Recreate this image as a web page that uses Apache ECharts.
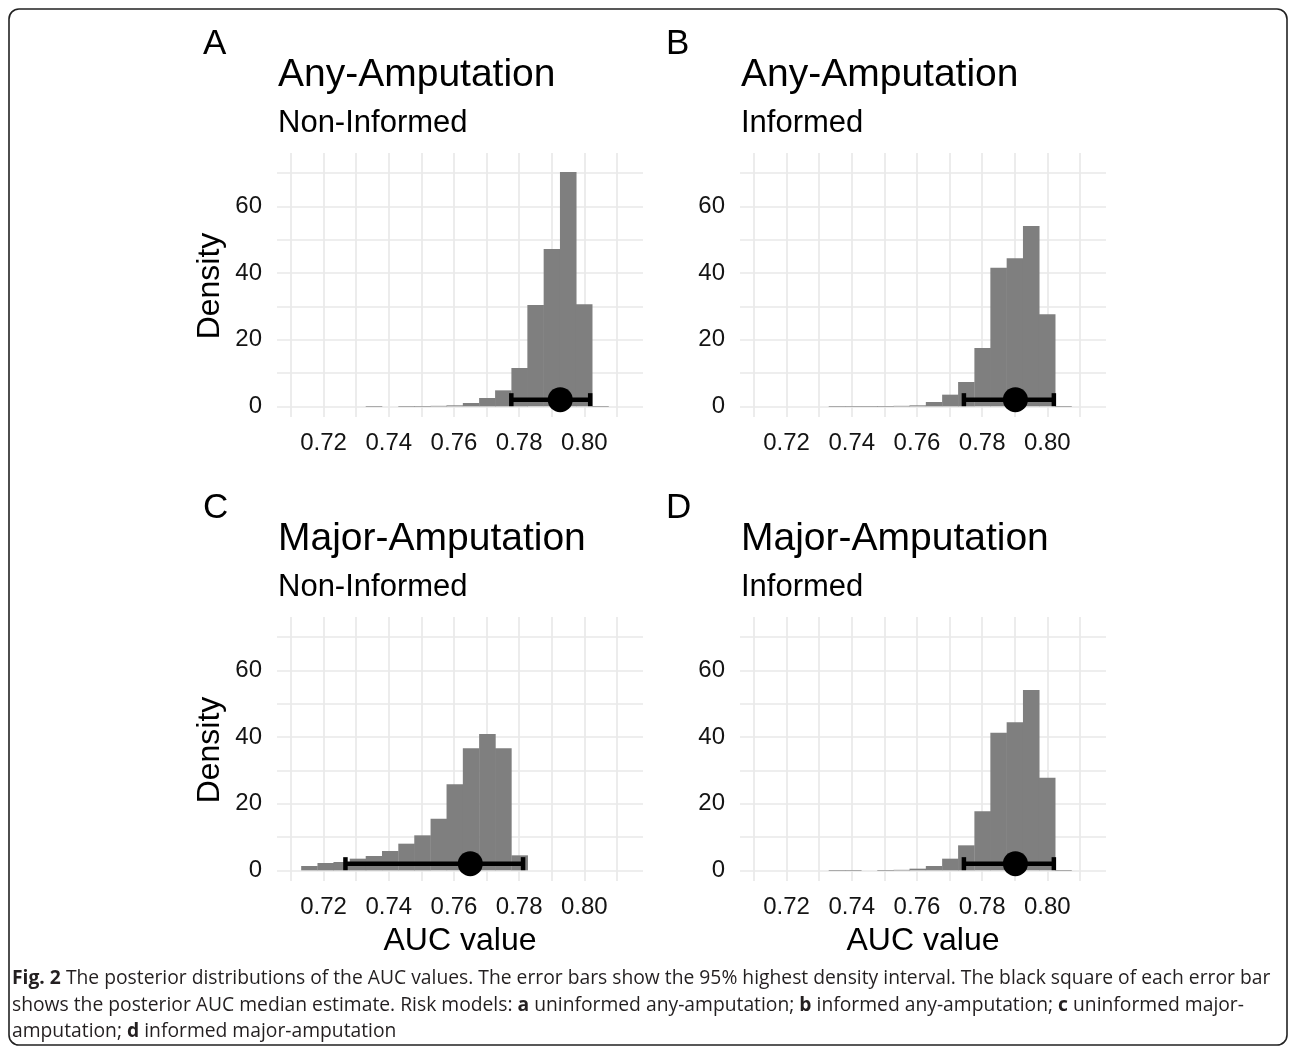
<!DOCTYPE html>
<html>
<head>
<meta charset="utf-8">
<script src="https://cdn.jsdelivr.net/npm/echarts@6/dist/echarts.min.js"></script>
<style>
  html, body { margin: 0; padding: 0; background: #fff; }
  #chart { width: 1296px; height: 1052px; }
</style>
</head>
<body>
<div id="chart"></div>
<script>
// histogram bins (centres on the AUC axis), shared by all four panels
const binMids = [0.7156, 0.7206, 0.7255, 0.7305, 0.7354, 0.7404, 0.7454, 0.7503, 0.7553, 0.7602,
  0.7652, 0.7702, 0.7751, 0.7801, 0.7850, 0.7900, 0.7950, 0.7999, 0.8049]
const binWidth = 0.00496

// posterior density per bin
const densityA = [0, 0, 0, 0, 0.1, 0, 0.1, 0.1, 0.15, 0.3, 1.0, 2.5, 4.8, 11.5, 30.4, 47.2, 70.3, 30.6, 0.1]
const densityB = [0, 0, 0, 0, 0.1, 0.1, 0.1, 0.1, 0.15, 0.3, 1.3, 3.5, 7.3, 17.5, 41.6, 44.4, 54.1, 27.6, 0.1]
const densityC = [1.3, 2.2, 2.5, 3.5, 4.3, 5.8, 8.0, 10.5, 15.5, 25.8, 36.6, 40.9, 36.6, 4.5, 0, 0, 0, 0, 0]
const densityD = [0, 0, 0, 0, 0.1, 0.1, 0, 0.1, 0.15, 0.5, 1.3, 3.5, 7.5, 17.7, 41.3, 44.4, 54.1, 27.8, 0.1]

// 95% HDI: low, median, high
const hdiA = [0.7776, 0.7926, 0.8018]
const hdiB = [0.7744, 0.7902, 0.8020]
const hdiC = [0.7267, 0.7650, 0.7812]
const hdiD = [0.7744, 0.7902, 0.8020]
const hdiHeight = 2

const xTickLabels = ['0.72', '0.74', '0.76', '0.78', '0.80']
const yTickLabels = ['0', '20', '40', '60']

const panelLetters = ['A', 'B', 'C', 'D']
const panelTitles = ['Any-Amputation', 'Any-Amputation', 'Major-Amputation', 'Major-Amputation']
const panelSubtitles = ['Non-Informed', 'Informed', 'Non-Informed', 'Informed']

const densities = [densityA, densityB, densityC, densityD]
const hdis = [hdiA, hdiB, hdiC, hdiD]

const FONT = '"Liberation Sans", Arial, Helvetica, sans-serif'
const gridLeft = [277, 740, 277, 740]
const gridTop = [153, 153, 617, 617]
const gridW = 366
const gridH = 264

const chart = echarts.init(document.getElementById('chart'), null, { renderer: 'canvas' })

const grids = []
const xAxes = []
const yAxes = []
const series = []
const graphics = []

graphics.push({
  type: 'rect',
  shape: { x: 9, y: 9, width: 1278, height: 1036, r: 10 },
  style: { fill: 'none', stroke: '#222', lineWidth: 1.6 },
  z: 0
})

const gridLine = { show: true, showMinLine: false, showMaxLine: false, lineStyle: { color: '#e9e9e9', width: 1.7 } }

for (let i = 0; i < 4; i++) {
  const left = gridLeft[i]
  const top = gridTop[i]
  grids.push({ left: left, top: top, width: gridW, height: gridH, containLabel: false })
  xAxes.push({
    type: 'value', gridIndex: i, min: 0.7057, max: 0.818, splitNumber: 11,
    axisLine: { show: false }, axisTick: { show: false },
    splitLine: gridLine,
    axisLabel: {
      margin: 14, fontSize: 24, fontFamily: FONT, color: '#141414',
      formatter: v => xTickLabels.indexOf(v.toFixed(2)) !== -1 ? v.toFixed(2) : ''
    }
  })
  yAxes.push({
    type: 'value', gridIndex: i, min: -3.2, max: 76, splitNumber: 8,
    axisLine: { show: false }, axisTick: { show: false },
    splitLine: gridLine,
    axisLabel: {
      margin: 15, fontSize: 24, fontFamily: FONT, color: '#141414',
      formatter: v => yTickLabels.indexOf(v.toFixed(0)) !== -1 && Math.abs(v % 20) < 1e-6 ? v.toFixed(0) : ''
    }
  })

  // histogram
  series.push({
    type: 'custom', xAxisIndex: i, yAxisIndex: i, z: 2,
    data: binMids.map((m, k) => [m, densities[i][k]]),
    renderItem: (params, api) => {
      const x = api.value(0)
      const h = api.value(1)
      const p0 = api.coord([x - binWidth / 2, 0])
      const p1 = api.coord([x + binWidth / 2, h])
      return {
        type: 'rect',
        shape: { x: p0[0], y: p1[1], width: p1[0] - p0[0] + 0.4, height: Math.max(p0[1] - p1[1], 0.6) },
        style: { fill: h > 0 ? '#7f7f7f' : 'rgba(0,0,0,0)' }
      }
    },
    silent: true
  })

  // 95% HDI error bar
  series.push({
    type: 'custom', xAxisIndex: i, yAxisIndex: i, z: 3,
    data: [[hdis[i][0], hdis[i][2], hdiHeight]],
    renderItem: (params, api) => {
      const a = api.coord([api.value(0), api.value(2)])
      const b = api.coord([api.value(1), api.value(2)])
      const st = { stroke: '#000', lineWidth: 4.5 }
      return {
        type: 'group',
        children: [
          { type: 'line', shape: { x1: a[0], y1: a[1], x2: b[0], y2: b[1] }, style: st },
          { type: 'line', shape: { x1: a[0], y1: a[1] - 6.5, x2: a[0], y2: a[1] + 6.5 }, style: st },
          { type: 'line', shape: { x1: b[0], y1: b[1] - 6.5, x2: b[0], y2: b[1] + 6.5 }, style: st }
        ]
      }
    },
    silent: true
  })

  // median
  series.push({
    type: 'scatter', xAxisIndex: i, yAxisIndex: i, z: 4,
    data: [[hdis[i][1], hdiHeight]],
    symbol: 'circle', symbolSize: 25,
    itemStyle: { color: '#000', opacity: 1 },
    silent: true
  })

  // panel texts
  graphics.push({
    type: 'text', x: left - 74, y: top - 109,
    style: { text: panelLetters[i], font: '35px ' + FONT, fill: '#000', verticalAlign: 'middle' }
  })
  graphics.push({
    type: 'text', x: left + 1, y: top - 78,
    style: { text: panelTitles[i], font: '39px ' + FONT, fill: '#000', verticalAlign: 'middle' }
  })
  graphics.push({
    type: 'text', x: left + 1, y: top - 29.5,
    style: { text: panelSubtitles[i], font: '31px ' + FONT, fill: '#000', verticalAlign: 'middle' }
  })
  if (i % 2 === 0) {
    graphics.push({
      type: 'text', x: left - 67, y: top + 133, rotation: Math.PI / 2,
      style: { text: 'Density', font: '32px ' + FONT, fill: '#000', align: 'center', verticalAlign: 'middle' }
    })
  }
  if (i >= 2) {
    graphics.push({
      type: 'text', x: left + gridW / 2, y: 941,
      style: { text: 'AUC value', font: '32px ' + FONT, fill: '#000', align: 'center', verticalAlign: 'middle' }
    })
  }
}

// caption
const CAP = '"Open Sans", "Noto Sans", sans-serif'
const CAP_SIZE = 19.3
const capRich = { b: { fontWeight: 'bold', fontSize: CAP_SIZE, fontFamily: CAP, fill: '#231f20' } }
const captionLines = [
  '{b|Fig. 2} The posterior distributions of the AUC values. The error bars show the 95% highest density interval. The black square of each error bar',
  'shows the posterior AUC median estimate. Risk models: {b|a} uninformed any-amputation; {b|b} informed any-amputation; {b|c} uninformed major-',
  'amputation; {b|d} informed major-amputation'
]
const captionY = [978.7, 1005.5, 1031.5]
captionLines.forEach((t, k) => {
  graphics.push({
    type: 'text', x: 12, y: captionY[k],
    style: { text: t, fontSize: CAP_SIZE, fontFamily: CAP, fill: '#231f20', verticalAlign: 'middle', rich: capRich }
  })
})

chart.setOption({
  backgroundColor: '#fff',
  animation: false,
  grid: grids,
  xAxis: xAxes,
  yAxis: yAxes,
  series: series,
  graphic: graphics
})
</script>
</body>
</html>
